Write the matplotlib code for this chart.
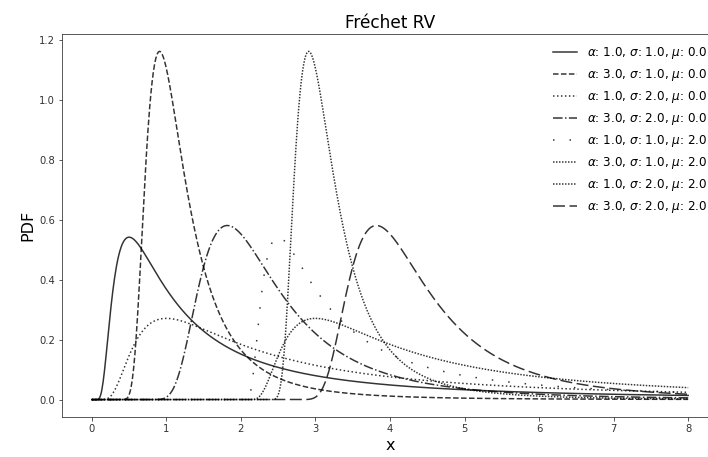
import numpy as np
import matplotlib
matplotlib.use("Agg")
import matplotlib.pyplot as plt

# Frechet parameters, one entry per curve
alphas = [1.0, 3.0, 1.0, 3.0, 1.0, 3.0, 1.0, 3.0]
sigmas = [1.0, 1.0, 2.0, 2.0, 1.0, 1.0, 2.0, 2.0]
mus = [0.0, 0.0, 0.0, 0.0, 2.0, 2.0, 2.0, 2.0]
x_min, x_max = 0.0, 8.0

styles = ['-', '--', ':', '-.', (0, (1, 10)), (0, (1, 1)), (0, (1, 1)), (0, (8, 3))]


def frechet_pdf(x, a, s, m):
    z = np.where(x > m, (x - m) / s, 1.0)
    pdf = (a / s) * z ** (-1 - a) * np.exp(-z ** (-a))
    return np.where(x > m, pdf, 0.0)


fig = plt.figure(figsize=(708 / 72, 457 / 72), dpi=72)
# axes run slightly past the right edge of the picture, as in the reference
ax = fig.add_axes([62 / 708, 40 / 457, 656 / 708, 383 / 457])

x = np.linspace(x_min, x_max, 1000)
for a, s, m, ls in zip(alphas, sigmas, mus, styles):
    ax.plot(x, frechet_pdf(x, a, s, m), color='k', alpha=0.8, lw=1.5, linestyle=ls,
            label=rf'$\alpha$: {a}, $\sigma$: {s}, $\mu$: {m}')

ax.set_title('Fréchet RV', fontsize=17)
ax.set_xlabel('x', fontsize=16)
ax.set_ylabel('PDF', fontsize=16)
ax.tick_params(labelsize=10, colors='#333333')
for sp in ax.spines.values():
    sp.set_color('#333333')
ax.spines['right'].set_visible(False)
ax.legend(loc='upper right', frameon=False, fontsize=12)

fig.savefig('out.png', dpi=72)
